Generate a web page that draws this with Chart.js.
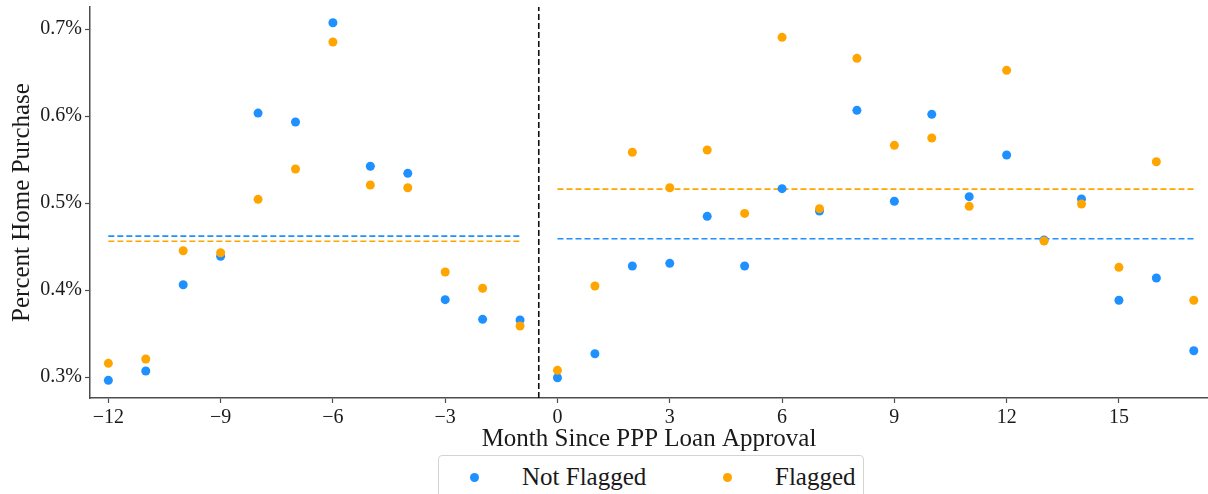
<!DOCTYPE html>
<html>
<head>
<meta charset="utf-8">
<script src="https://cdn.jsdelivr.net/npm/chart.js@4/dist/chart.umd.min.js"></script>
<style>
  html, body { margin: 0; padding: 0; background: #fff; }
  #wrap { position: relative; width: 1208px; height: 494px; overflow: hidden; }
  #legend {
    position: absolute; left: 438px; top: 455px; width: 424px; height: 60px;
    border: 1px solid #d4d4d4; border-radius: 4px; background: #fff;
    font-family: "Liberation Serif", "DejaVu Serif", serif; font-size: 25px; color: #1a1a1a;
  }
  #legend .item { position: absolute; top: 6px; line-height: 30px; white-space: nowrap; }
  #legend .dot { position: absolute; width: 9px; height: 9px; border-radius: 50%; top: 17px; }
</style>
</head>
<body>
<div id="wrap">
  <canvas id="chart" width="1208" height="494"></canvas>
  <div id="legend">
    <span class="dot" style="left:31px;background:#1E90FF"></span>
    <span class="item" style="left:83px">Not Flagged</span>
    <span class="dot" style="left:284px;background:#FFA500"></span>
    <span class="item" style="left:336px">Flagged</span>
  </div>
</div>
<script>
// Months relative to PPP loan approval
const months = [-12, -11, -10, -9, -8, -7, -6, -5, -4, -3, -2, -1,
                0, 1, 2, 3, 4, 5, 6, 7, 8, 9, 10, 11, 12, 13, 14, 15, 16, 17];

// Percent of borrowers making a home purchase in each month
const notFlagged = [0.2962, 0.3069, 0.4061, 0.4387, 0.6034, 0.5931, 0.7072, 0.5422, 0.5341, 0.3889, 0.3663, 0.3655,
                    0.2992, 0.3268, 0.4276, 0.4307, 0.4847, 0.4276, 0.5165, 0.4908, 0.6065, 0.5020, 0.6019, 0.5073,
                    0.5552, 0.4575, 0.5046, 0.3882, 0.4138, 0.3302];
const flagged = [0.3157, 0.3207, 0.4452, 0.4429, 0.5042, 0.5391, 0.6851, 0.5207, 0.5176, 0.4207, 0.4020, 0.3586,
                 0.3077, 0.4046, 0.5583, 0.5176, 0.5609, 0.4881, 0.6904, 0.4935, 0.6663, 0.5663, 0.5747, 0.4962,
                 0.6525, 0.4563, 0.4989, 0.4261, 0.5475, 0.3882];

// Period averages (before / after approval)
const preMeanNotFlagged = 0.462;
const preMeanFlagged = 0.456;
const postMeanNotFlagged = 0.459;
const postMeanFlagged = 0.516;
const prePeriod = [-12, -1];
const postPeriod = [0, 17];
const approvalLine = -0.5;

// Axis ticks
const xTicks = [-12, -9, -6, -3, 0, 3, 6, 9, 12, 15];
const yTicks = [0.3, 0.4, 0.5, 0.6, 0.7];
const xRange = [-12.49, 17.38];
const yRange = [0.2759, 0.7253];

const BLUE = '#1E90FF';
const ORANGE = '#FFA500';
const SPINE = '#4d4d4d';
const TEXT = '#1a1a1a';
const FONT = '"Liberation Serif", "DejaVu Serif", serif';

const points = vals => months.map((m, i) => ({ x: m, y: vals[i] }));
const hline = (range, y) => [{ x: range[0], y: y }, { x: range[1], y: y }];
const dashed = (data, color, order) => ({
  type: 'line', data, borderColor: color, borderWidth: 1.6, borderDash: [6, 3],
  pointRadius: 0, fill: false, order, clip: false
});

new Chart(document.getElementById('chart'), {
  type: 'scatter',
  data: {
    datasets: [
      { label: 'Flagged', data: points(flagged), backgroundColor: ORANGE, borderWidth: 0, pointRadius: 4.5, order: 0 },
      { label: 'Not Flagged', data: points(notFlagged), backgroundColor: BLUE, borderWidth: 0, pointRadius: 4.5, order: 1 },
      dashed(hline(prePeriod, preMeanNotFlagged), BLUE, 2),
      dashed(hline(prePeriod, preMeanFlagged), ORANGE, 2),
      dashed(hline(postPeriod, postMeanNotFlagged), BLUE, 2),
      dashed(hline(postPeriod, postMeanFlagged), ORANGE, 2),
      dashed([{ x: approvalLine, y: yRange[0] }, { x: approvalLine, y: yRange[1] }], '#111', 2)
    ]
  },
  options: {
    responsive: false,
    animation: false,
    layout: { autoPadding: false, padding: { top: 7, right: 0, bottom: 40, left: 0 } },
    plugins: { legend: { display: false }, tooltip: { enabled: false } },
    scales: {
      x: {
        type: 'linear', min: xRange[0], max: xRange[1],
        afterBuildTicks: s => { s.ticks = xTicks.map(v => ({ value: v })); },
        afterFit: s => { s.height = 56; s.paddingLeft = 0; s.paddingRight = 0; },
        ticks: {
          color: TEXT, padding: 3, maxRotation: 0,
          font: { family: FONT, size: 20 },
          callback: v => (v < 0 ? '\u2212' + Math.abs(v) : String(v))
        },
        grid: { display: true, drawOnChartArea: false, drawTicks: true, tickLength: 5, color: SPINE, tickWidth: 1.2 },
        border: { display: true, color: SPINE, width: 1.5 },
        title: {
          display: true, text: 'Month Since PPP Loan Approval', color: TEXT,
          font: { family: FONT, size: 25, lineHeight: 1.2 }, padding: { top: 0, bottom: 0 }
        }
      },
      y: {
        type: 'linear', min: yRange[0], max: yRange[1],
        afterBuildTicks: s => { s.ticks = yTicks.map(v => ({ value: v })); },
        afterFit: s => { s.width = 90; s.paddingTop = 0; s.paddingBottom = 0; },
        ticks: {
          color: TEXT, padding: 3,
          font: { family: FONT, size: 20 },
          callback: v => v.toFixed(1) + '%'
        },
        grid: { display: true, drawOnChartArea: false, drawTicks: true, tickLength: 5, color: SPINE, tickWidth: 1.2 },
        border: { display: true, color: SPINE, width: 1.5 },
        title: {
          display: true, text: 'Percent Home Purchase', color: TEXT,
          font: { family: FONT, size: 25, lineHeight: 1.2 }, padding: { top: 7, bottom: 0 }
        }
      }
    }
  }
});
</script>
</body>
</html>
